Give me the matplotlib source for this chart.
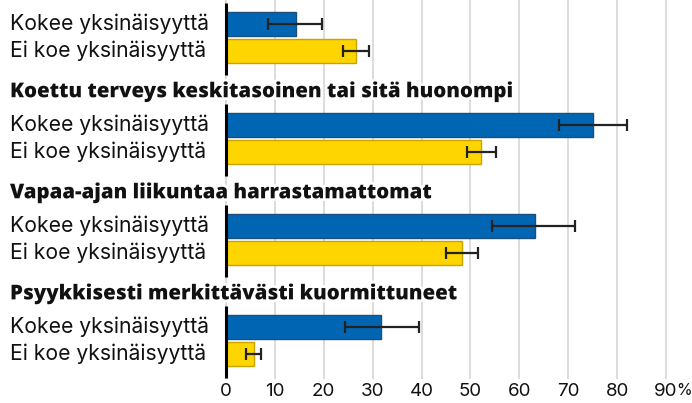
import numpy as np
import matplotlib
matplotlib.use("Agg")
import matplotlib.pyplot as plt
import matplotlib.patheffects as pe
from matplotlib.transforms import blended_transform_factory

plt.rcParams["font.family"] = ["Inter", "DejaVu Sans"]

# group titles (the first one is cut off in the source picture)
group_titles = [
    "",
    "Koettu terveys keskitasoinen tai sitä huonompi",
    "Vapaa-ajan liikuntaa harrastamattomat",
    "Psyykkisesti merkittävästi kuormittuneet",
]
row_labels = ["Kokee yksinäisyyttä", "Ei koe yksinäisyyttä"]

# values in %, with confidence interval limits
lonely = [14.3, 75.1, 63.1, 31.8]
lonely_lo = [8.6, 68.2, 54.5, 24.3]
lonely_hi = [19.6, 82.0, 71.4, 39.4]

not_lonely = [26.5, 52.2, 48.2, 5.7]
not_lonely_lo = [23.9, 49.2, 44.9, 4.1]
not_lonely_hi = [29.2, 55.3, 51.6, 7.1]

ticks = [0, 10, 20, 30, 40, 50, 60, 70, 80, 90]

################################################################

BLUE = "#0066b3"
BLUE_EDGE = "#1d4f7c"
YELLOW = "#ffd500"
YELLOW_EDGE = "#c9a400"
TEXT = "#111111"

fig = plt.figure(figsize=(6.92, 4.03), dpi=100)
# plot area spans the full height down to the tick labels
ax = fig.add_axes([221 / 692, 24 / 403, 450 / 692, 379 / 403])

n = len(group_titles)
group_gap = 4.0
y_lonely = 0.95 + np.arange(n) * group_gap
y_not = y_lonely + 1.07
bar_h = 0.97

lonely = np.array(lonely)
not_lonely = np.array(not_lonely)
err1 = [lonely - np.array(lonely_lo), np.array(lonely_hi) - lonely]
err2 = [not_lonely - np.array(not_lonely_lo), np.array(not_lonely_hi) - not_lonely]

ax.barh(y_lonely, lonely, height=bar_h, color=BLUE, edgecolor=BLUE_EDGE,
        linewidth=1, zorder=3)
ax.barh(y_not, not_lonely, height=bar_h, color=YELLOW, edgecolor=YELLOW_EDGE,
        linewidth=1, zorder=3)
ax.errorbar(lonely, y_lonely, xerr=err1, fmt="none", ecolor="#222222",
            elinewidth=1.6, capsize=4, capthick=1.6, zorder=4)
ax.errorbar(not_lonely, y_not, xerr=err2, fmt="none", ecolor="#222222",
            elinewidth=1.6, capsize=4, capthick=1.6, zorder=4)

# black zero line, one piece per group
ax.vlines(np.zeros(n), y_lonely - 0.85, y_not + 0.95, color="black",
          linewidth=2.2, zorder=5)

# labels on the left
tr = blended_transform_factory(fig.transFigure, ax.transData)
halo = [pe.withStroke(linewidth=4, foreground="white")]
for i in range(n):
    ax.text(10 / 692, y_lonely[i], row_labels[0], transform=tr, ha="left",
            va="center", fontsize=15.2, color=TEXT)
    ax.text(10 / 692, y_not[i], row_labels[1], transform=tr, ha="left",
            va="center", fontsize=15.2, color=TEXT)
    if group_titles[i]:
        ax.text(10 / 692, y_lonely[i] - 1.3, group_titles[i], transform=tr,
                ha="left", va="center", fontsize=14.7, fontweight=800,
                family=["Open Sans", "DejaVu Sans"],
                color=TEXT, path_effects=halo, zorder=6, clip_on=False)

ax.set_xlim(-1, 91)
ax.set_ylim(15.0, 0)
ax.set_xticks(ticks)
ax.set_xticklabels([str(t) for t in ticks], fontsize=13.5, color=TEXT)
ax.tick_params(axis="x", length=0, pad=3)
ax.annotate("%", xy=(90, 0), xycoords=("data", "axes fraction"),
            xytext=(7.5, -3), textcoords="offset points", ha="left", va="top",
            fontsize=11.5, color=TEXT, annotation_clip=False)
ax.set_yticks([])
ax.grid(axis="x", color="#d6d6d6", linewidth=1.2, zorder=0)
ax.set_axisbelow(True)
for s in ax.spines.values():
    s.set_visible(False)

fig.savefig("out.png", dpi=100)
